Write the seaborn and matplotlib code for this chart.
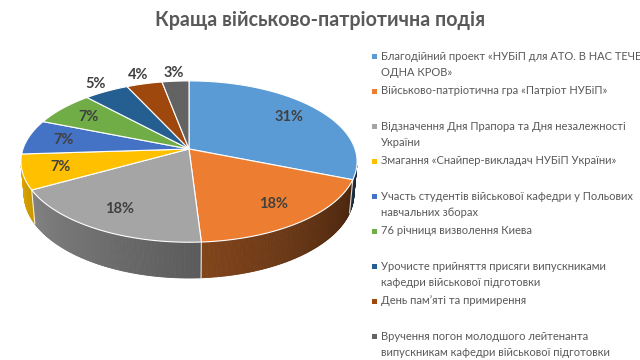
import numpy as np
import matplotlib
matplotlib.use("Agg")
import matplotlib.pyplot as plt
import matplotlib.colors as mcolors
from matplotlib.patches import Rectangle
import seaborn as sns

# ---------------- data ----------------
title = "Краща військово-патріотична подія"
categories = [
    "Благодійний проект «НУБіП для АТО. В НАС ТЕЧЕ\nОДНА КРОВ»",
    "Військово-патріотична гра «Патріот НУБіП»",
    "Відзначення Дня Прапора та Дня незалежності\nУкраїни",
    "Змагання «Снайпер-викладач НУБіП України»",
    "Участь студентів військової кафедри у Польових\nнавчальних зборах",
    "76 річниця визволення Киева",
    "Урочисте прийняття присяги випускниками\nкафедри військової підготовки",
    "День пам’яті та примирення",
    "Вручення погон молодшого лейтенанта\nвипускникам кафедри військової підготовки",
]
values = [31, 18, 18, 7, 7, 7, 5, 4, 3]
colors = ["#5B9BD5", "#ED7D31", "#A5A5A5", "#FFC000", "#4472C4",
          "#70AD47", "#255E91", "#9E480E", "#636363"]

# ---------------- style ----------------
sns.set_theme(style="white")
plt.rcParams['font.family'] = ['Lato', 'DejaVu Sans']
palette = sns.color_palette(colors)

W, H = 640, 360
fig = plt.figure(figsize=(6.4, 3.6), dpi=100)
ax = fig.add_axes([0, 0, 1, 1])
ax.set_xlim(0, W)
ax.set_ylim(H, 0)
ax.axis('off')

# ---------------- 3D pie projection ----------------
elev = np.radians(28.3)
D = 5.65
f = 938.0
cx, cy = 189.0, 149.0
h = 0.223


def proj(x, y, z):
    Yc = y * np.sin(elev) + z * np.cos(elev)
    Zc = D + y * np.cos(elev) - z * np.sin(elev)
    return cx + f * x / Zc, cy - f * Yc / Zc


total = float(sum(values))
cum = np.concatenate([[0], np.cumsum(values)])
th_start = 90 - 360 * cum[:-1] / total
th_end = 90 - 360 * cum[1:] / total

# visible outer wall range
lim = np.degrees(np.arcsin(1.0 / (D * np.cos(elev))))
vis_lo, vis_hi = -180 + lim, -lim


def shade(t):
    return float(np.clip(0.56 - 0.0037 * (t + 90), 0.25, 0.9))


# walls
for i, (a0, a1) in enumerate(zip(th_start, th_end)):
    hi = min(a0, vis_hi)
    lo = max(a1, vis_lo)
    if hi <= lo:
        continue
    base = np.array(palette[i])
    n = max(2, int((hi - lo) / 0.5))
    edges = np.linspace(hi, lo, n + 1)
    for ta, tb in zip(edges[:-1], edges[1:]):
        ra, rb = np.radians(ta), np.radians(tb)
        p = [proj(np.cos(ra), np.sin(ra), 0), proj(np.cos(rb), np.sin(rb), 0),
             proj(np.cos(rb), np.sin(rb), -h), proj(np.cos(ra), np.sin(ra), -h)]
        c = tuple(base * shade(0.5 * (ta + tb)))
        ax.fill([q[0] for q in p], [q[1] for q in p], color=c, lw=0.6, ec=c)

# white seams on wall
for t in th_start:
    tt = t if t > -270 else t + 360
    for cand in (tt, tt - 360, tt + 360):
        if vis_lo < cand < vis_hi:
            r = np.radians(cand)
            p0 = proj(np.cos(r), np.sin(r), 0)
            p1 = proj(np.cos(r), np.sin(r), -h)
            ax.plot([p0[0], p1[0]], [p0[1], p1[1]], color='white', lw=0.8, alpha=0.85)

# top surfaces
for i, (a0, a1) in enumerate(zip(th_start, th_end)):
    ts = np.radians(np.linspace(a0, a1, 80))
    pts = [proj(0, 0, 0)] + [proj(np.cos(t), np.sin(t), 0) for t in ts]
    ax.fill([q[0] for q in pts], [q[1] for q in pts], fc=palette[i],
            ec='white', lw=0.8, joinstyle='round')

# data labels
for i, v in enumerate(values):
    tm = np.radians(0.5 * (th_start[i] + th_end[i]))
    r = 0.78 if v >= 6 else 1.15
    x, y = proj(r * np.cos(tm), r * np.sin(tm), 0)
    ax.text(x, y, f"{v}%", ha='center', va='center', fontsize=10.5,
            fontweight='bold', color='#404040')

# title
ax.text(320, 20, title, ha='center', va='center', fontsize=14.1,
        fontweight='bold', color='#595959')

# legend
y0, slot, lsp = 56, 35.0, 16
for i, lab in enumerate(categories):
    yy = y0 + i * slot
    ax.add_patch(Rectangle((372, yy - 2.5), 5, 5, color=palette[i], lw=0))
    for j, line in enumerate(lab.split("\n")):
        ax.text(381, yy + j * lsp, line, ha='left', va='center', fontsize=8,
                color='#595959')

fig.savefig("out.png", dpi=100)
